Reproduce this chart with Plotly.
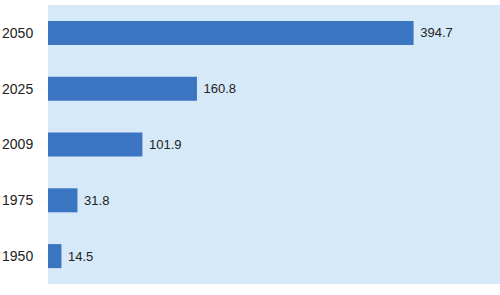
import plotly.graph_objects as go

years = ["1950", "1975", "2009", "2025", "2050"]
values = [14.5, 31.8, 101.9, 160.8, 394.7]
labels = ["14.5", "31.8", "101.9", "160.8", "394.7"]

fig = go.Figure(go.Bar(
    x=values, y=years, orientation="h",
    marker=dict(color="#3b74c1", line=dict(width=0)),
    width=0.43,
    text=[" " + s for s in labels], textposition="outside", cliponaxis=False,
    textfont=dict(family="Liberation Sans, Arial", size=13, color="#222222"),
))
fig.update_layout(
    width=500, height=295,
    margin=dict(l=48, r=0, t=5, b=11),
    paper_bgcolor="white", plot_bgcolor="#d6e9f8",
    showlegend=False,
    font=dict(family="Liberation Sans, Arial", size=14, color="#222222"),
    xaxis=dict(range=[0, 488], showgrid=False, showticklabels=False, zeroline=False, fixedrange=True),
    yaxis=dict(type="category", showgrid=False, ticks="outside", ticklen=11,
               tickcolor="rgba(0,0,0,0)", tickfont=dict(size=14, color="#222222")),
)
fig.write_html("out.html")
